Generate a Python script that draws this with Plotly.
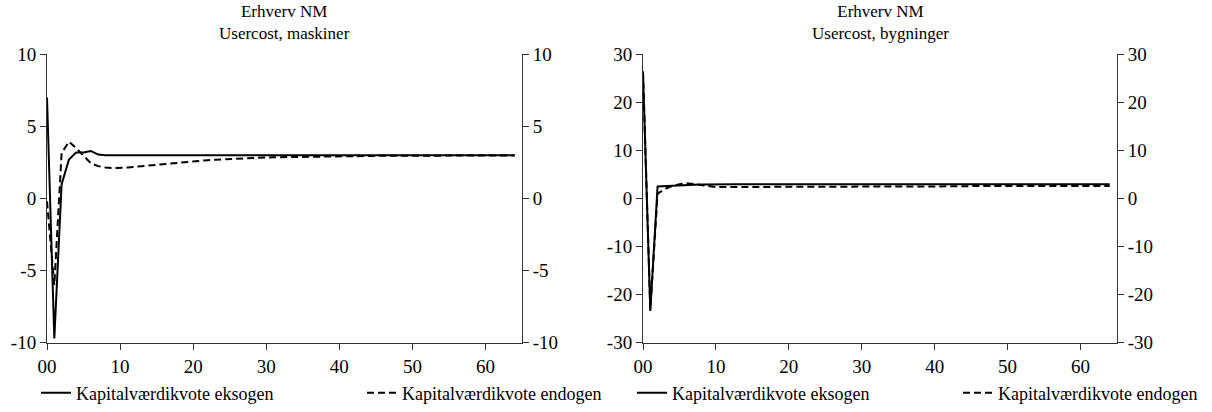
import plotly.graph_objects as go

# ---- data ----
periods = list(range(0, 65))
tick_vals = [0, 10, 20, 30, 40, 50, 60]
tick_text = ["00", "10", "20", "30", "40", "50", "60"]

panel_titles = ["Erhverv NM<br>Usercost, maskiner", "Erhverv NM<br>Usercost, bygninger"]
series_names = ["Kapitalværdikvote eksogen", "Kapitalværdikvote endogen"]

mask_eksogen = [7.0, -9.7, 1.0, 2.7, 3.2, 3.2, 3.3, 3.05, 3.0, 3.0] + [3.0] * 55
mask_endogen = [-0.2, -6.0, 3.15, 3.95, 3.5, 3.0, 2.45, 2.25, 2.15, 2.12, 2.12,
                2.15, 2.2, 2.25, 2.3, 2.35, 2.4, 2.45, 2.5, 2.55, 2.6,
                2.63, 2.66, 2.69, 2.72, 2.75, 2.77, 2.79, 2.81, 2.83, 2.85,
                2.86, 2.87, 2.88, 2.89, 2.9, 2.91, 2.92, 2.93, 2.935, 2.94,
                2.945, 2.95, 2.955, 2.96, 2.96, 2.965, 2.965, 2.97, 2.97, 2.97,
                2.975, 2.975, 2.98, 2.98, 2.98, 2.985, 2.985, 2.985, 2.99, 2.99,
                2.99, 2.99, 2.99, 2.99]

byg_eksogen = [26.2, -23.4, 2.5, 2.6, 2.7, 2.75, 2.8, 2.85, 2.9, 2.95, 3.0] + [3.0] * 54
byg_endogen = [26.5, -23.0, 1.0, 2.0, 2.6, 3.0, 3.2, 3.0, 2.7, 2.5, 2.4,
               2.4, 2.4, 2.4, 2.4, 2.4, 2.4, 2.4, 2.4, 2.4, 2.45,
               2.45, 2.45, 2.45, 2.45, 2.5, 2.5, 2.5, 2.5, 2.5, 2.5,
               2.5, 2.5, 2.5, 2.5, 2.55, 2.55, 2.55, 2.55, 2.55, 2.55,
               2.55, 2.55, 2.55, 2.55, 2.6, 2.6, 2.6, 2.6, 2.6, 2.6,
               2.6, 2.6, 2.6, 2.6, 2.6, 2.6, 2.6, 2.6, 2.6, 2.6,
               2.6, 2.6, 2.6, 2.6]

y_ranges = [[-10, 10], [-30, 30]]
y_ticks = [[-10, -5, 0, 5, 10], [-30, -20, -10, 0, 10, 20, 30]]
y_ticklabels = [["-10", "-5", "0", "5", "10"], ["-30", "-20", "-10", "0", "10", "20", "30"]]

W, H = 1212, 412
FONT = "Liberation Serif, Times New Roman, serif"
FS_TICK = 19
FS_TITLE = 17
FS_LEG = 18


def px_x(sx):
    return sx / W


def px_y(sy):
    return 1 - sy / H


fig = go.Figure()

panels = [(mask_eksogen, mask_endogen), (byg_eksogen, byg_endogen)]
x_dom_px = [(47, 522), (643, 1117)]
y_dom = [px_y(347), px_y(55)]
# left edge (px) of each legend entry: [panel][series]
legend_left_px = [[36, 362], [632, 958]]
legend_ids = [["legend", "legend2"], ["legend3", "legend4"]]

for i, (eks, endo) in enumerate(panels):
    xa = "x" if i == 0 else "x2"
    ya = "y" if i == 0 else "y3"
    fig.add_trace(go.Scatter(x=periods, y=eks, mode="lines", name=series_names[0],
                             line=dict(color="black", width=2), xaxis=xa, yaxis=ya,
                             legend=legend_ids[i][0]))
    fig.add_trace(go.Scatter(x=periods, y=endo, mode="lines", name=series_names[1],
                             line=dict(color="black", width=2, dash="7px,4px"), xaxis=xa, yaxis=ya,
                             legend=legend_ids[i][1]))

axis_common = dict(showgrid=False, zeroline=False, showline=True, linecolor="#333",
                   linewidth=1, ticks="outside", ticklen=6, tickcolor="#333", automargin=False,
                   tickfont=dict(family=FONT, size=FS_TICK, color="black"))

layout = dict(
    width=W, height=H, margin=dict(l=0, r=0, t=0, b=0),
    paper_bgcolor="white", plot_bgcolor="white",
    font=dict(family=FONT, size=FS_TICK, color="black"),
)

for i in range(2):
    xd = [px_x(x_dom_px[i][0]), px_x(x_dom_px[i][1])]
    xkey = "xaxis" if i == 0 else "xaxis2"
    ykey = "yaxis" if i == 0 else "yaxis3"
    yrkey = "yaxis2" if i == 0 else "yaxis4"
    xanchor_name = "y" if i == 0 else "y3"
    xname = "x" if i == 0 else "x2"
    yname = "y" if i == 0 else "y3"
    layout[xkey] = dict(axis_common, domain=xd, range=[0, 65], tickvals=tick_vals,
                        ticktext=tick_text, anchor=xanchor_name)
    layout[ykey] = dict(axis_common, domain=list(y_dom), range=y_ranges[i], tickvals=y_ticks[i],
                        ticktext=y_ticklabels[i], anchor=xname, side="left")
    layout[yrkey] = dict(axis_common, range=y_ranges[i], tickvals=y_ticks[i],
                         ticktext=y_ticklabels[i], overlaying=yname, anchor=xname, side="right")
    for j in range(2):
        layout[legend_ids[i][j]] = dict(orientation="h", x=px_x(legend_left_px[i][j]),
                                        y=px_y(398), xanchor="left", yanchor="middle",
                                        font=dict(family=FONT, size=FS_LEG),
                                        bgcolor="rgba(0,0,0,0)")

fig.update_layout(**layout)

# empty traces so right axes render
for i in range(2):
    fig.add_trace(go.Scatter(x=[None], y=[None], xaxis="x" if i == 0 else "x2",
                             yaxis="y2" if i == 0 else "y4", showlegend=False, hoverinfo="skip"))

for i in range(2):
    cx = px_x((x_dom_px[i][0] + x_dom_px[i][1]) / 2)
    fig.add_annotation(text=panel_titles[i], x=cx, y=px_y(23), xref="paper", yref="paper",
                       showarrow=False, font=dict(family=FONT, size=FS_TITLE, color="black"),
                       xanchor="center", yanchor="middle", align="center")

fig.write_html("out.html", config={"displayModeBar": False},
               post_script="document.body.style.margin='0px';")
